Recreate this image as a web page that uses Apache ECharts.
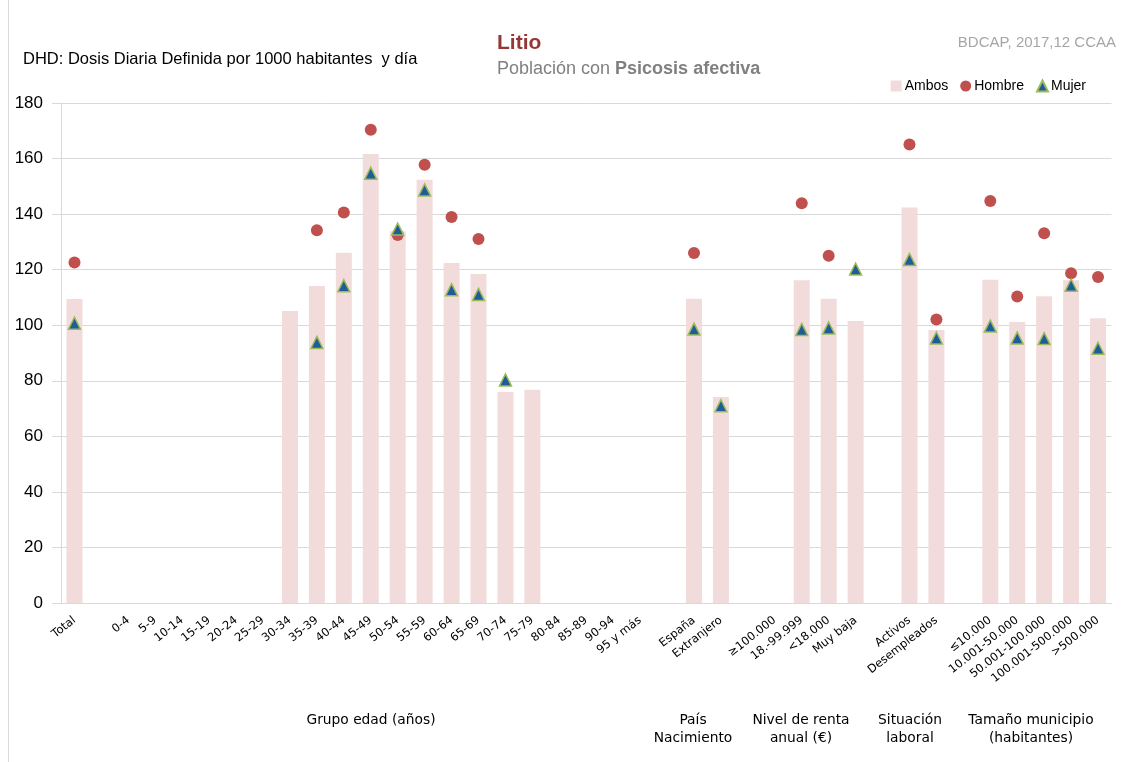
<!DOCTYPE html>
<html>
<head>
<meta charset="utf-8">
<script src="https://cdn.jsdelivr.net/npm/echarts@6/dist/echarts.min.js"></script>
<style>
html,body{margin:0;padding:0;background:#fff;}
#chart{width:1121px;height:762px;}
</style>
</head>
<body>
<div id="chart"></div>
<script>
var categories = ['Total',' ','0-4','5-9','10-14','15-19','20-24','25-29','30-34','35-39','40-44','45-49','50-54','55-59','60-64','65-69','70-74','75-79','80-84','85-89','90-94','95 y más','  ','España','Extranjero','   ','≥100.000','18.-99.999','<18.000','Muy baja','    ','Activos','Desempleados','     ','≤10.000','10.001-50.000','50.001-100.000','100.001-500.000','>500.000'];

var ambos = [109.4,null,null,null,null,null,null,null,105.1,114.1,126.1,161.6,133.8,152.4,122.4,118.4,76.0,76.8,null,null,null,null,null,109.5,74.2,null,null,116.2,109.5,101.5,null,142.4,98.3,null,116.4,101.2,110.4,116.2,102.5];

var hombre = [122.6,null,null,null,null,null,null,null,null,134.2,140.6,170.4,132.5,157.8,139.0,131.0,null,null,null,null,null,null,null,126.0,null,null,null,143.9,125.0,null,null,165.1,102.1,null,144.7,110.3,133.1,118.7,117.4];

var mujer = [100.7,null,null,null,null,null,null,null,null,93.8,114.2,154.7,134.6,148.7,112.8,111.1,80.3,null,null,null,null,null,null,98.6,71.0,null,null,98.5,99.0,120.2,null,123.7,95.4,null,99.7,95.4,95.2,114.4,91.7];

var seriesNames = ['Ambos','Hombre','Mujer'];

var groupLabels = [
  {text:'Grupo edad (años)', x:371},
  {text:'País\nNacimiento', x:693},
  {text:'Nivel de renta\nanual (€)', x:801},
  {text:'Situación\nlaboral', x:910},
  {text:'Tamaño municipio\n(habitantes)', x:1031}
];

var chart = echarts.init(document.getElementById('chart'), null, {renderer:'canvas'});

var graphics = [
  {type:'line', shape:{x1:8.5,y1:0,x2:8.5,y2:762}, style:{stroke:'#d9d9d9',lineWidth:1}, silent:true},
  {type:'text', left:497, top:33, style:{text:'Litio', fill:'#953735', font:'bold 21px "Liberation Sans", Arial, sans-serif'}},
  {type:'text', left:497, top:60, style:{
    rich:{n:{fill:'#808080',fontSize:18,fontFamily:'"Liberation Sans", Arial, sans-serif'},
          b:{fill:'#808080',fontSize:18,fontWeight:'bold',fontFamily:'"Liberation Sans", Arial, sans-serif'}},
    text:'{n|Población con }{b|Psicosis afectiva}'}},
  {type:'text', right:5, top:35, style:{text:'BDCAP, 2017,12 CCAA', fill:'#a6a6a6', font:'15px "Liberation Sans", Arial, sans-serif'}},
  {type:'text', left:23, top:51, style:{text:'DHD: Dosis Diaria Definida por 1000 habitantes  y día', fill:'#000', font:'16.5px "Liberation Sans", Arial, sans-serif'}}
];
groupLabels.forEach(function(g){
  graphics.push({type:'text', x:g.x, y:711, style:{text:g.text, fill:'#000', font:'13.8px "DejaVu Sans", sans-serif', align:'center', verticalAlign:'top', lineHeight:18}});
});

var option = {
  backgroundColor:'#fff',
  animation:false,
  graphic: graphics,
  legend:{
    right:30, top:74, itemGap:12, itemWidth:11, itemHeight:11,
    textStyle:{fontSize:14, color:'#000', fontFamily:'"Liberation Sans", Arial, sans-serif', padding:[0,0,0,-2]},
    data:[{name:seriesNames[0], icon:'rect'},{name:seriesNames[1], icon:'circle'},{name:seriesNames[2], icon:'triangle'}]
  },
  grid:{left:61, right:9.5, top:103, bottom:159, containLabel:false},
  xAxis:{
    type:'category', data:categories,
    axisLine:{show:true, lineStyle:{color:'#d9d9d9'}},
    axisTick:{show:false},
    axisLabel:{interval:0, rotate:38, fontSize:11.5, color:'#000', fontFamily:'"DejaVu Sans", sans-serif', margin:16}
  },
  yAxis:{
    type:'value', min:0, max:180, interval:20,
    axisLine:{show:true, lineStyle:{color:'#d9d9d9'}},
    axisTick:{show:true, length:9, lineStyle:{color:'#d9d9d9'}},
    axisLabel:{fontSize:17, color:'#000', fontFamily:'"Liberation Sans", Arial, sans-serif', margin:18},
    splitLine:{lineStyle:{color:'#d9d9d9'}}
  },
  series:[
    {name:seriesNames[0], type:'bar', data:ambos, barWidth:16, barGap:'-100%', itemStyle:{color:'#f2dcdb'}},
    {name:seriesNames[1], type:'scatter', data:hombre, symbol:'circle', symbolSize:12, itemStyle:{color:'#c0504d', opacity:1}, z:3},
    {name:seriesNames[2], type:'scatter', data:mujer, symbol:'triangle', symbolSize:12, itemStyle:{color:'#1f5c99', borderColor:'#9bbb59', borderWidth:1.5, opacity:1}, z:4}
  ]
};
chart.setOption(option);
</script>
</body>
</html>
